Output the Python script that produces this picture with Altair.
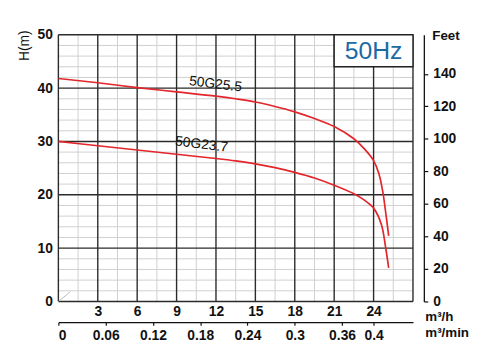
import altair as alt
import pandas as pd

# ---- data ----
flow_25 = [0, 3, 6, 9, 12, 13.5, 15, 16.5, 18, 19.5, 21, 22.5, 23.3, 24, 24.4, 24.7, 24.9, 25.15]
head_25 = [41.8, 41.0, 40.1, 39.3, 38.5, 38.0, 37.4, 36.55, 35.55, 34.3, 32.8, 30.5, 28.6, 26.4, 24.0, 20.6, 17.1, 12.3]
flow_23 = [0, 3, 6, 9, 12, 13.5, 15, 16.5, 18, 19.5, 21, 22.5, 23.3, 24, 24.6, 24.9, 25.15]
head_23 = [30.0, 29.2, 28.4, 27.6, 26.8, 26.35, 25.8, 25.1, 24.2, 23.15, 21.8, 20.2, 19.0, 17.5, 14.4, 10.4, 6.3]
series_names = ["50G25.5", "50G23.7"]
label_q = [11.96, 10.9]
label_h = [40.7, 29.4]

qh_major = [0, 3, 6, 9, 12, 15, 18, 21, 24, 27]
qh_minor = [1.5, 4.5, 7.5, 10.5, 13.5, 16.5, 19.5, 22.5, 25.5]
qh_labels = [3, 6, 9, 12, 15, 18, 21, 24]
h_major = [0, 10, 20, 30, 40, 50]
h_minor = [v for v in range(2, 50, 2) if v % 10 != 0]
qmin_ticks = [0, 0.06, 0.12, 0.18, 0.24, 0.3, 0.36, 0.4]
feet_ticks = [0, 20, 40, 60, 80, 100, 120, 140]
box_q = [21, 27]
box_h = [44, 50]
freq_label = "50Hz"
diag_q = [0, 0.9]
diag_h = [0, 1.8]

Q_MAX, H_MAX = 27, 50
FEET_MAX = H_MAX * 3.28084
QMIN_MAX = Q_MAX / 60

W, H = 359, 270
FONT = "Liberation Sans"

xs = alt.Scale(domain=[0, Q_MAX], nice=False, zero=False)
ys = alt.Scale(domain=[0, H_MAX], nice=False, zero=False)

curves = pd.DataFrame({
    "q": flow_25 + flow_23,
    "h": head_25 + head_23,
    "s": [series_names[0]] * len(flow_25) + [series_names[1]] * len(flow_23),
})
labels_df = pd.DataFrame({"q": label_q, "h": label_h, "s": series_names})

minor_x = alt.Chart(pd.DataFrame({"v": qh_minor})).mark_rule(
    color="#cfcfcf", strokeWidth=1).encode(x=alt.X("v:Q", scale=xs, axis=None))
minor_y = alt.Chart(pd.DataFrame({"v": h_minor})).mark_rule(
    color="#cfcfcf", strokeWidth=1).encode(y=alt.Y("v:Q", scale=ys, axis=None))

major_x = alt.Chart(pd.DataFrame({"v": qh_major})).mark_rule(
    color="#2b2b2b", strokeWidth=1.4).encode(
    x=alt.X("v:Q", scale=xs, axis=alt.Axis(
        values=qh_labels, domain=False, ticks=False, tickSize=0, grid=False,
        labelPadding=3, labelFontSize=14, labelFontWeight="bold",
        labelFont=FONT, labelColor="#111",
        title="m³/h", titleX=371, titleY=19, titleAlign="left",
        titleBaseline="alphabetic", titleAngle=0, titleFont=FONT,
        titleFontSize=13.5, titleFontWeight="bold", titleColor="#111")))
major_y = alt.Chart(pd.DataFrame({"v": h_major})).mark_rule(
    color="#2b2b2b", strokeWidth=1.4).encode(
    y=alt.Y("v:Q", scale=ys, axis=alt.Axis(
        values=h_major, domain=False, ticks=False, tickSize=0, grid=False,
        labelPadding=6, labelFontSize=14, labelFontWeight="bold",
        labelFont=FONT, labelColor="#111",
        title="H(m)", titleAngle=270, titleX=-30, titleY=-5,
        titleAlign="right", titleBaseline="alphabetic", titleFont=FONT,
        titleFontSize=14, titleFontWeight="normal", titleColor="#111")))

diag = alt.Chart(pd.DataFrame({"q": diag_q, "h": diag_h})).mark_line(
    color="#bbbbbb", strokeWidth=1).encode(
    x=alt.X("q:Q", scale=xs, axis=None), y=alt.Y("h:Q", scale=ys, axis=None))

box = alt.Chart(pd.DataFrame({"q1": [box_q[0]], "q2": [box_q[1]],
                              "h1": [box_h[0]], "h2": [box_h[1]]})).mark_rect(
    fill="white", stroke="#222", strokeWidth=1.4).encode(
    x=alt.X("q1:Q", scale=xs, axis=None), x2="q2:Q",
    y=alt.Y("h1:Q", scale=ys, axis=None), y2="h2:Q")

box_text = alt.Chart(pd.DataFrame({"q": [sum(box_q) / 2], "h": [sum(box_h) / 2],
                                   "t": [freq_label]})).mark_text(
    font=FONT, fontSize=25, color="#1a6aa3", align="center", baseline="middle").encode(
    x=alt.X("q:Q", scale=xs, axis=None), y=alt.Y("h:Q", scale=ys, axis=None),
    text="t:N")

lines = alt.Chart(curves).mark_line(
    color="#e3262b", strokeWidth=1.7, interpolate="catmull-rom").encode(
    x=alt.X("q:Q", scale=xs, axis=None), y=alt.Y("h:Q", scale=ys, axis=None),
    detail="s:N")

curve_labels = alt.Chart(labels_df).mark_text(
    font=FONT, fontSize=14, color="#111", angle=7, align="center",
    baseline="middle").encode(
    x=alt.X("q:Q", scale=xs, axis=None), y=alt.Y("h:Q", scale=ys, axis=None),
    text="s:N")

feet_axis = alt.Chart(pd.DataFrame({"f": feet_ticks})).mark_point(opacity=0).encode(
    y=alt.Y("f:Q", scale=alt.Scale(domain=[0, FEET_MAX], nice=False, zero=False),
            axis=alt.Axis(orient="right", offset=11, values=feet_ticks, grid=False,
                          domain=True, domainColor="#111", domainWidth=1.3,
                          ticks=True, tickSize=4, tickColor="#111", tickWidth=1.2,
                          labelPadding=5, labelFontSize=14, labelFontWeight="bold",
                          labelFont=FONT, labelColor="#111",
                          title="Feet", titleAngle=0, titleX=8, titleY=5,
                          titleAlign="left", titleBaseline="alphabetic",
                          titleFont=FONT, titleFontSize=13.5,
                          titleFontWeight="bold", titleColor="#111")))

min_axis = alt.Chart(pd.DataFrame({"m": qmin_ticks})).mark_point(opacity=0).encode(
    x=alt.X("m:Q", scale=alt.Scale(domain=[0, QMIN_MAX], nice=False, zero=False),
            axis=alt.Axis(orient="bottom", offset=21, values=qmin_ticks, grid=False,
                          domain=True, domainColor="#111", domainWidth=1.3,
                          ticks=True, tickSize=3, tickColor="#111", tickWidth=1.2,
                          labelExpr="toString(round(datum.value*100)/100)",
                          labelPadding=4, labelFontSize=14, labelFontWeight="bold",
                          labelFont=FONT, labelColor="#111",
                          title="m³/min", titleX=371, titleY=14, titleAngle=0,
                          titleAlign="left", titleBaseline="alphabetic",
                          titleFont=FONT, titleFontSize=13.5,
                          titleFontWeight="bold", titleColor="#111")))

chart = alt.layer(
    minor_x, minor_y, major_x, major_y, diag, box, box_text, lines,
    curve_labels, feet_axis, min_axis
).resolve_scale(x="independent", y="independent").properties(
    width=W, height=H,
    autosize=alt.AutoSizeParams(type="none"),
    padding={"left": 51, "top": 25, "right": 80, "bottom": 45},
).configure_view(stroke=None)

chart.save("out.html", embed_options={"renderer": "svg", "actions": False})
